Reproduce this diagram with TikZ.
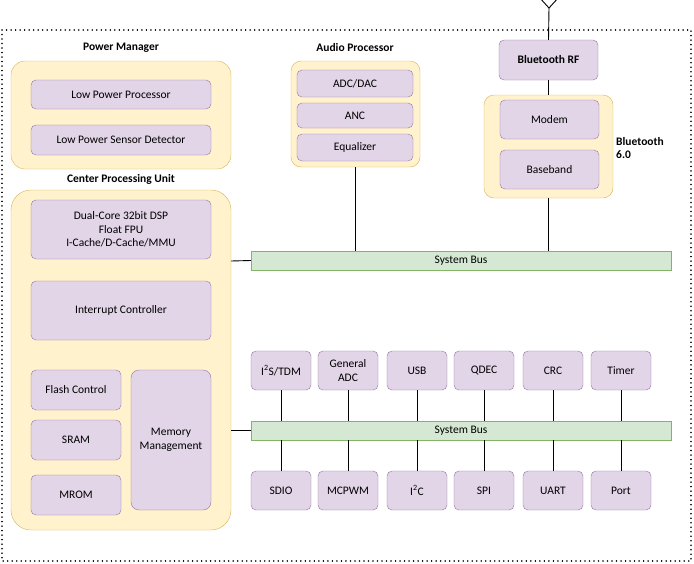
\documentclass[tikz,border=0pt]{standalone}
\usepackage{fontspec}
\setmainfont{Carlito}
\begin{document}
\begin{tikzpicture}[x=1pt,y=-1pt,
  pbox/.style={draw=pstroke,fill=pfill,rounded corners=5pt,align=center,font=\fontsize{11.5}{13.5}\selectfont},
  ybox/.style={draw=ystroke,fill=yfill,rounded corners=14pt},
  gbus/.style={draw=gstroke,fill=gfill,font=\fontsize{11.5}{13.5}\selectfont},
  ttl/.style={font=\bfseries\fontsize{11.5}{13.5}\selectfont,align=left},
  ln/.style={draw=black,line width=0.9pt}]
\definecolor{pfill}{HTML}{E1D5E7}\definecolor{pstroke}{HTML}{9673A6}
\definecolor{yfill}{HTML}{FFF2CC}\definecolor{ystroke}{HTML}{D6B656}
\definecolor{gfill}{HTML}{D5E8D4}\definecolor{gstroke}{HTML}{82B366}
\useasboundingbox (0,0) rectangle (694,563);
\draw[line width=1.6pt,dash pattern=on 0.01pt off 4.5pt,line cap=round] (2,30) rectangle (691,561);
% antenna
\coordinate (ant) at (549,8);
\coordinate (al) at (539,-3);\coordinate (ar) at (559,-3);
\draw[ln] (al)--(ant)--(ar);
% Power manager
\node[ttl] (pmt) at (121,48) {Power Manager};
\path[ybox] (11,61) rectangle (231,169);
\node[pbox,minimum width=180,minimum height=29] (lpp) at (121,94.5) {Low Power Processor};
\node[pbox,minimum width=180,minimum height=30] (lps) at (121,140) {Low Power Sensor Detector};
% Audio
\node[ttl] (apt) at (355,48) {Audio Processor};
\node[ybox,minimum width=129,minimum height=106,rounded corners=10pt] (ap) at (355.5,114) {};
\node[pbox,minimum width=116,minimum height=27] at (355,83.5) {ADC/DAC};
\node[pbox,minimum width=116,minimum height=25] at (355,115.5) {ANC};
\node[pbox,minimum width=116,minimum height=27] at (355,147.5) {Equalizer};
% Bluetooth
\node[pbox,minimum width=99,minimum height=40,font=\bfseries\fontsize{11.5}{13.5}\selectfont] (rf) at (548.5,60) {Bluetooth RF};
\node[ybox,minimum width=129,minimum height=103,rounded corners=10pt] (bt) at (548.5,146.5) {};
\node[pbox,minimum width=99,minimum height=39] at (549.5,119.5) {Modem};
\node[pbox,minimum width=99,minimum height=39] at (549.5,169.5) {Baseband};
\node[ttl,anchor=west,inner sep=1pt] (btt) at (615,148) {Bluetooth\\6.0};
\draw[ln] (ant)--(rf.north);
\draw[ln] (rf.south)--(bt.north);
% CPU
\node[ttl] (cput) at (121,179) {Center Processing Unit};
\node[ybox,minimum width=220,minimum height=340,rounded corners=20pt] (cpu) at (121,360) {};
\node[pbox,minimum width=180,minimum height=59] at (121,229.5) {Dual-Core 32bit DSP\\Float FPU\\I-Cache/D-Cache/MMU};
\node[pbox,minimum width=180,minimum height=59] at (121,310.5) {Interrupt Controller};
\node[pbox,minimum width=90,minimum height=40] at (76,390) {Flash Control};
\node[pbox,minimum width=90,minimum height=40] at (76,440) {SRAM};
\node[pbox,minimum width=90,minimum height=40] at (76,495) {MROM};
\node[pbox,minimum width=80,minimum height=140,rounded corners=8pt,inner sep=1pt] at (171,440) {Memory\\Management};
% buses
\node[gbus,minimum width=420,minimum height=19,inner sep=0] (bus1) at (461,260.5) {System Bus};
\node[gbus,minimum width=420,minimum height=19,inner sep=0] (bus2) at (461,430.5) {System Bus};
\draw[ln] (231,261)--(bus1.west);
\draw[ln] (231,430.5)--(bus2.west);
\draw[ln] (ap.south)--(ap.south|-bus1.north);
\draw[ln] (bt.south)--(bt.south|-bus1.north);
% peripherals
\foreach \n/\x/\t/\b in {a/281/{I\textsuperscript{2}S/TDM}/SDIO,b/348/{General\\ADC}/MCPWM,c/417/USB/{I\textsuperscript{2}C},d/484/QDEC/SPI,e/553/CRC/UART,f/621/Timer/Port}{
  \node[pbox,minimum width=60,minimum height=39,inner sep=1pt] (t\n) at (\x,370.5) {\t};
  \node[pbox,minimum width=60,minimum height=39,inner sep=1pt] (b\n) at (\x,490.5) {\b};
  \draw[ln] (t\n.south)--(t\n.south|-bus2.north);
  \draw[ln] (b\n.north)--(b\n.north|-bus2.south);
}
\end{tikzpicture}
\end{document}
